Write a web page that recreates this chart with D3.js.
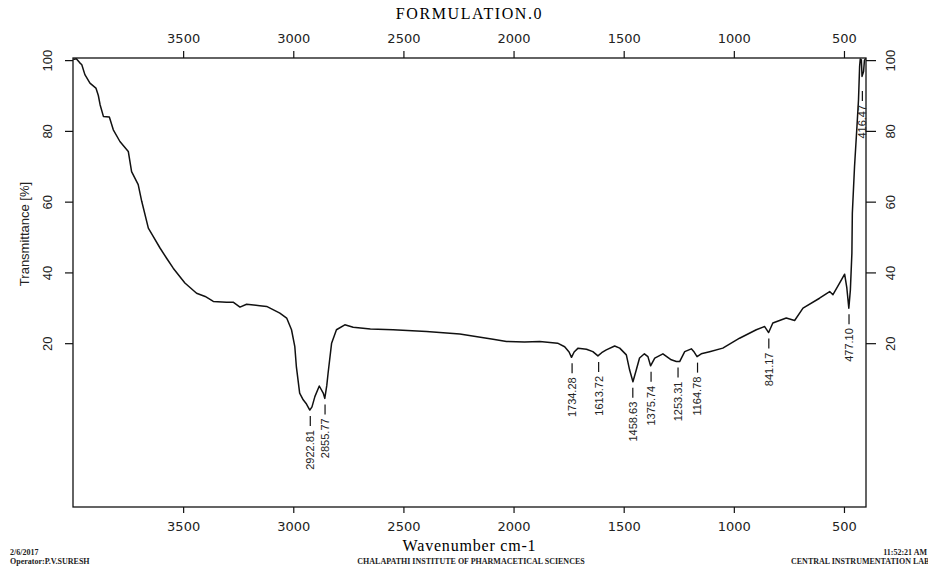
<!DOCTYPE html>
<html>
<head>
<meta charset="utf-8">
<script src="https://cdn.jsdelivr.net/npm/d3@7"></script>
<style>
  body { margin: 0; background: #fff; }
  .x-axis text { font-family: "DejaVu Sans", sans-serif; font-size: 13px; fill: #222; }
  .y-axis text { font-family: "Liberation Sans", Arial, sans-serif; font-size: 13px; fill: #222; }
  .peakText { font-family: "Liberation Sans", Arial, sans-serif; font-size: 11px; fill: #222; }
  .footText { font-family: "Liberation Serif", serif; font-size: 8px; font-weight: bold; fill: #222; }
</style>
</head>
<body>
<div class="spectrum"></div>
<script>
// spectrum points: wavenumber (cm-1) and transmittance (%)
var wavenumbers = [3999, 3985, 3970, 3960, 3946, 3923, 3896, 3885, 3877, 3862, 3835, 3817, 3787, 3749, 3734,
    3704, 3688, 3658, 3636, 3605, 3575, 3545, 3492, 3439, 3400, 3363, 3303, 3273, 3242, 3212, 3152, 3121, 3061,
    3030, 3008, 2993, 2986, 2971, 2955, 2940, 2925, 2915, 2902, 2882, 2864, 2857, 2848, 2842, 2826, 2804, 2766,
    2728, 2650, 2547, 2395, 2244, 2093, 2032, 1950, 1881, 1800, 1768, 1748, 1737, 1725, 1707, 1669, 1640, 1617,
    1600, 1579, 1541, 1518, 1488, 1473, 1458, 1443, 1428, 1406, 1390, 1378, 1359, 1322, 1284, 1261, 1246, 1223,
    1193, 1180, 1167, 1148, 1110, 1050, 974, 898, 860, 842, 823, 762, 724, 686, 611, 565, 550, 520, 497, 487,
    478, 471, 464, 462, 452, 441, 434, 429, 426, 421, 418, 411, 407, 401];
var transmittance = [100.2, 100.4, 99.3, 98.7, 95.9, 93.5, 92.1, 90.0, 87.4, 84.1, 83.9, 80.3, 77.0, 74.2, 68.5,
    64.8, 60.1, 52.5, 50.2, 46.9, 44.0, 41.2, 37.0, 34.1, 33.2, 31.8, 31.6, 31.6, 30.2, 31.0, 30.6, 30.4, 28.5,
    27.1, 23.8, 19.0, 13.4, 5.9, 4.0, 2.8, 1.1, 2.0, 4.9, 7.9, 5.9, 4.4, 8.0, 11.5, 20.0, 23.8, 25.2,
    24.5, 24.0, 23.8, 23.3, 22.6, 21.1, 20.5, 20.3, 20.5, 20.0, 19.0, 17.5, 16.0, 17.5, 18.6, 18.3, 17.6, 16.4,
    17.3, 18.1, 19.2, 18.6, 16.7, 12.4, 9.1, 12.4, 15.8, 17.0, 16.2, 13.6, 15.8, 17.0, 15.3, 14.8, 14.8, 17.6,
    18.4, 17.5, 16.2, 17.0, 17.6, 18.6, 21.4, 23.8, 24.7, 23.0, 25.7, 27.1, 26.4, 29.9, 32.7, 34.6, 33.7, 37.0, 39.5, 35.6,
    29.9, 35.0, 45.5, 56.8, 70.0, 81.3, 88.8, 98.2, 100.3, 100.1, 95.4, 96.8, 100.0, 100.5];

// marked peaks
var peakLabels = ["2922.81", "2855.77", "1734.28", "1613.72", "1458.63", "1375.74", "1253.31", "1164.78", "841.17", "477.10", "416.47"];
var peakWavenumbers = [2922.81, 2855.77, 1734.28, 1613.72, 1458.63, 1375.74, 1253.31, 1164.78, 841.17, 477.10, 416.47];
var peakTransmittance = [1.1, 4.4, 16.0, 16.4, 9.1, 13.6, 14.8, 16.2, 23.0, 29.9, 93.0];

var xTicks = [3500, 3000, 2500, 2000, 1500, 1000, 500];
var yTicks = [20, 40, 60, 80, 100];

var svgWidth = 928;
var svgHeight = 569;

var margin = { top: 58, right: 62, bottom: 62, left: 73 };

var width = svgWidth - margin.left - margin.right;
var height = svgHeight - margin.top - margin.bottom;

var svg = d3.select(".spectrum")
    .append("svg")
    .attr("width", svgWidth)
    .attr("height", svgHeight);

var chart = svg.append("g")
    .attr("transform", "translate(" + margin.left + "," + margin.top + ")");

// scales
var xScale = d3.scaleLinear()
    .domain([4000, 400])
    .range([0, width]);

var yScale = d3.scaleLinear()
    .domain([-26.3, 100.6])
    .range([height, 0]);

// axes on all four sides
var fmt = d3.format("d");
var bottomAxis = d3.axisBottom(xScale).tickValues(xTicks).tickFormat(fmt).tickSize(6).tickSizeOuter(0).tickPadding(9);
var topAxis = d3.axisTop(xScale).tickValues(xTicks).tickFormat(fmt).tickSize(7).tickSizeOuter(0).tickPadding(8);
var leftAxis = d3.axisLeft(yScale).tickValues(yTicks).tickFormat(fmt).tickSize(8).tickSizeOuter(0);
var rightAxis = d3.axisRight(yScale).tickValues(yTicks).tickFormat(fmt).tickSize(10).tickSizeOuter(0);

chart.append("g")
    .attr("class", "x-axis")
    .attr("transform", `translate(0, ${height})`)
    .call(bottomAxis);

chart.append("g")
    .attr("class", "x-axis")
    .call(topAxis);

var left = chart.append("g")
    .attr("class", "y-axis")
    .call(leftAxis);

var right = chart.append("g")
    .attr("class", "y-axis")
    .attr("transform", `translate(${width}, 0)`)
    .call(rightAxis);

chart.selectAll(".domain").remove();
chart.selectAll(".tick line").attr("stroke", "#111").attr("stroke-width", 1.2);

// rotated y labels like the instrument print
left.selectAll(".tick text")
    .attr("x", null).attr("dy", null)
    .attr("text-anchor", "middle")
    .attr("transform", "translate(-26,0) rotate(-90)")
    .attr("dy", "0.35em");

right.selectAll(".tick text")
    .attr("x", null).attr("dy", null)
    .attr("text-anchor", "middle")
    .attr("transform", "translate(24,0) rotate(-90)")
    .attr("dy", "0.35em");

// frame
chart.append("rect")
    .attr("width", width)
    .attr("height", height)
    .attr("fill", "none")
    .attr("stroke", "#111")
    .attr("stroke-width", 1.3);

// spectrum line
var points = wavenumbers.map((w, i) => [w, transmittance[i]]);

var line = d3.line()
    .x(d => xScale(d[0]))
    .y(d => yScale(d[1]));

chart.append("path")
    .datum(points)
    .attr("fill", "none")
    .attr("stroke", "#111")
    .attr("stroke-width", 1.5)
    .attr("stroke-linejoin", "round")
    .attr("d", line);

// peak markers: short dash and rotated label under each peak
var peaks = peakLabels.map((label, i) => ({ label: label, w: peakWavenumbers[i], t: peakTransmittance[i] }));

chart.selectAll(".peakDash")
    .data(peaks)
    .enter()
    .append("line")
    .attr("class", "peakDash")
    .attr("x1", d => xScale(d.w))
    .attr("x2", d => xScale(d.w))
    .attr("y1", d => yScale(d.t) + 6)
    .attr("y2", d => yScale(d.t) + 16)
    .attr("stroke", "#111")
    .attr("stroke-width", 1.2);

chart.selectAll(".peakText")
    .data(peaks)
    .enter()
    .append("text")
    .attr("class", "peakText")
    .attr("text-anchor", "end")
    .attr("dy", "0.35em")
    .attr("transform", d => "translate(" + xScale(d.w) + "," + (yScale(d.t) + 20) + ") rotate(-90)")
    .text(d => d.label);

// titles
svg.append("text")
    .attr("x", margin.left + width / 2)
    .attr("y", 19)
    .attr("text-anchor", "middle")
    .style("font-family", "Liberation Serif, serif")
    .style("font-size", "16px")
    .style("letter-spacing", "1.6px")
    .text("FORMULATION.0");

svg.append("text")
    .attr("x", margin.left + width / 2)
    .attr("y", 551)
    .attr("text-anchor", "middle")
    .style("font-family", "Liberation Serif, serif")
    .style("font-size", "16px")
    .style("letter-spacing", "0.8px")
    .text("Wavenumber cm-1");

svg.append("text")
    .attr("transform", "translate(29,234) rotate(-90)")
    .attr("text-anchor", "middle")
    .style("font-family", "Liberation Sans, Arial, sans-serif")
    .style("font-size", "13px")
    .style("fill", "#222")
    .text("Transmittance [%]");

// footer
svg.append("text").attr("class", "footText").attr("x", 10).attr("y", 555).text("2/6/2017");
svg.append("text").attr("class", "footText").attr("x", 10).attr("y", 564).text("Operator:P.V.SURESH");
svg.append("text").attr("class", "footText").attr("x", 471).attr("y", 564)
    .attr("text-anchor", "middle").text("CHALAPATHI INSTITUTE OF PHARMACETICAL SCIENCES");
svg.append("text").attr("class", "footText").attr("x", 927).attr("y", 555)
    .attr("text-anchor", "end").text("11:52:21 AM");
svg.append("text").attr("class", "footText").attr("x", 791).attr("y", 564).text("CENTRAL INSTRUMENTATION LAB");
</script>
</body>
</html>
